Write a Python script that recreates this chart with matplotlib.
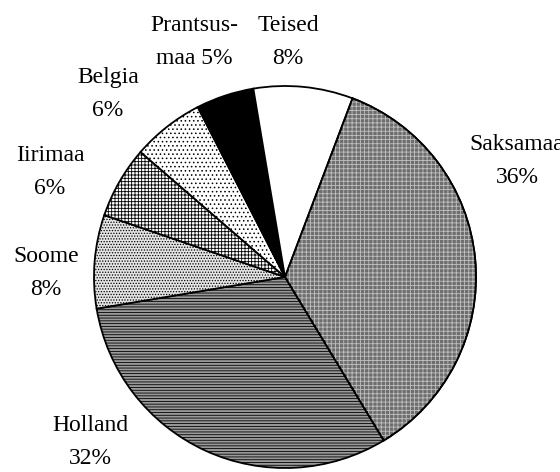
import matplotlib
matplotlib.use('Agg')
import matplotlib.pyplot as plt
from matplotlib.patches import Wedge

# export shares by country (clockwise from Saksamaa)
countries = ['Saksamaa', 'Holland', 'Soome', 'Iirimaa', 'Belgia', 'Prantsusmaa', 'Teised']
shares = [35.6, 31.0, 7.9, 6.1, 6.1, 4.9, 8.4]
label_texts = ['Saksamaa\n36%', 'Holland\n32%', 'Soome\n8%', 'Iirimaa\n6%',
               'Belgia\n6%', 'Prantsus-\nmaa 5%', 'Teised\n8%']

# label centres in pie-radius units
label_pos = [(1.215, 0.607), (-1.021, -0.864), (-1.251, 0.021), (-1.230, 0.550),
             (-0.927, 0.958), (-0.476, 1.230), (0.016, 1.230)]

faces = ['#6e6e6e', '#9a9a9a', '#e4e4e4', 'white', 'white', 'black', 'white']
hatches = [None, '------', '......', '+++++', '....', None, None]

plt.rcParams['hatch.linewidth'] = 0.6
plt.rcParams['font.family'] = ['Liberation Serif', 'DejaVu Serif']

fig = plt.figure(figsize=(5.6, 4.72), dpi=100)
ax = fig.add_axes([0, 0, 1, 1])

wedges, _ = ax.pie(shares, startangle=69.3, counterclock=False,
                   colors=faces, radius=1.0,
                   wedgeprops=dict(edgecolor='black', linewidth=1.3))
for w, h in zip(wedges, hatches):
    if h:
        w.set_hatch(h)

# light dotted texture on the grey Saksamaa slice
sak = wedges[0]
dots = Wedge(sak.center, sak.r, sak.theta1, sak.theta2, facecolor='none',
             edgecolor='#c0c0c0', hatch='++++', linewidth=0, zorder=sak.zorder + 0.1)
ax.add_patch(dots)
ax.add_patch(Wedge(sak.center, sak.r, sak.theta1, sak.theta2, facecolor='none',
                   edgecolor='black', linewidth=1.3, zorder=sak.zorder + 0.2))

for txt, (x, y) in zip(label_texts, label_pos):
    ax.text(x, y, txt, ha='center', va='center', fontsize=17,
            linespacing=1.7, color='black')

# pixel-exact framing: centre at (285, 277) px, radius 191 px
r = 191.0
ax.set_xlim(-285 / r, (560 - 285) / r)
ax.set_ylim(-(472 - 277) / r, 277 / r)
ax.set_aspect('equal', adjustable='box')
ax.axis('off')

fig.savefig('out.png', dpi=100)
